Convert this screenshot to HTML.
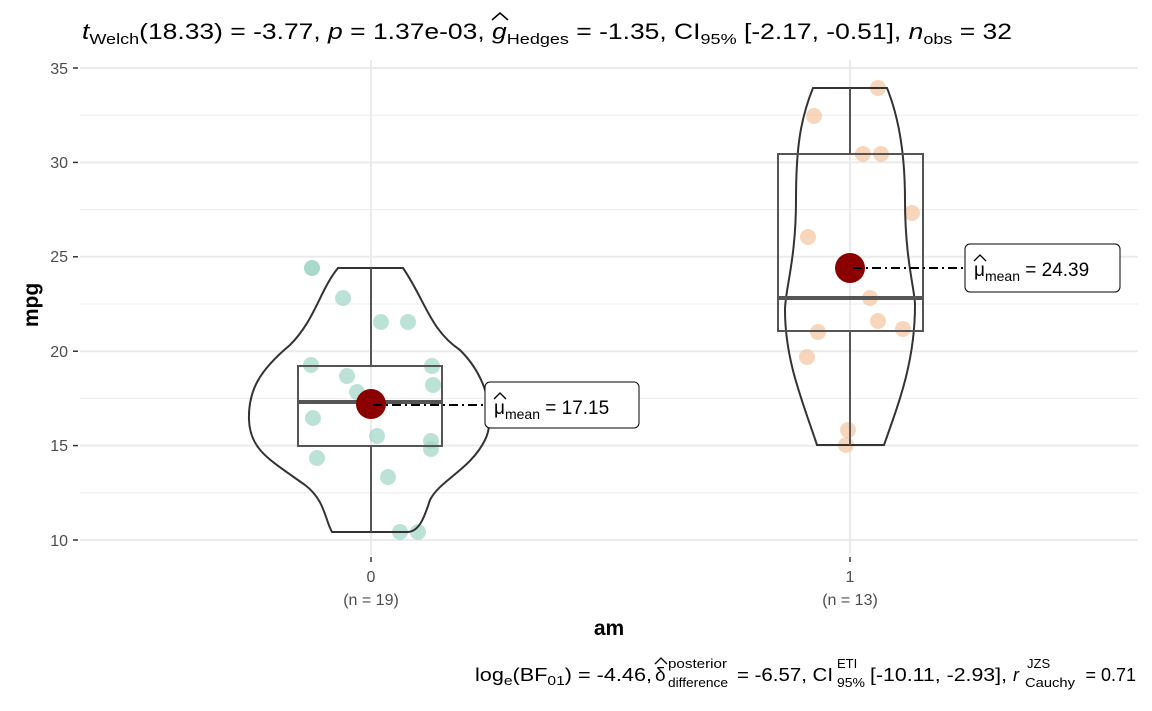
<!DOCTYPE html>
<html><head><meta charset="utf-8"><style>body{margin:0;background:#fff}svg{display:block;font-family:"Liberation Sans",sans-serif}</style></head><body>
<svg width="1152" height="711" viewBox="0 0 1152 711">
<g stroke="#ebebeb" stroke-width="1">
<line x1="80" x2="1138" y1="492.8" y2="492.8"/><line x1="80" x2="1138" y1="398.4" y2="398.4"/><line x1="80" x2="1138" y1="304" y2="304"/><line x1="80" x2="1138" y1="209.6" y2="209.6"/><line x1="80" x2="1138" y1="115.2" y2="115.2"/>
</g>
<g stroke="#ebebeb" stroke-width="2">
<line x1="80" x2="1138" y1="540" y2="540"/><line x1="80" x2="1138" y1="445.6" y2="445.6"/><line x1="80" x2="1138" y1="351.2" y2="351.2"/><line x1="80" x2="1138" y1="256.8" y2="256.8"/><line x1="80" x2="1138" y1="162.4" y2="162.4"/><line x1="80" x2="1138" y1="68" y2="68"/>
<line x1="371" x2="371" y1="60" y2="555"/><line x1="850" x2="850" y1="60" y2="555"/>
</g>
<g fill="#9fd6c6" fill-opacity="0.7">
<circle cx="312" cy="268" r="8"/><circle cx="343" cy="298" r="8"/><circle cx="381" cy="322" r="8"/><circle cx="408" cy="322" r="8"/><circle cx="311" cy="365" r="8"/><circle cx="347" cy="376" r="8"/><circle cx="357" cy="392" r="8"/><circle cx="432" cy="366" r="8"/><circle cx="433" cy="385" r="8"/><circle cx="313" cy="418" r="8"/><circle cx="377" cy="436" r="8"/><circle cx="431" cy="441" r="8"/><circle cx="431" cy="449" r="8"/><circle cx="317" cy="458" r="8"/><circle cx="388" cy="477" r="8"/><circle cx="400" cy="532" r="8"/><circle cx="418" cy="532" r="8"/><circle cx="312" cy="268" r="8"/>
</g>
<g fill="#f4c49e" fill-opacity="0.7">
<circle cx="878" cy="88" r="8"/><circle cx="814" cy="116" r="8"/><circle cx="863" cy="154" r="8"/><circle cx="881" cy="154" r="8"/><circle cx="912" cy="213" r="8"/><circle cx="808" cy="237" r="8"/><circle cx="870" cy="298" r="8"/><circle cx="878" cy="321" r="8"/><circle cx="818" cy="332" r="8"/><circle cx="903" cy="329" r="8"/><circle cx="807" cy="357" r="8"/><circle cx="848" cy="430" r="8"/><circle cx="846" cy="445" r="8"/>
</g>
<g fill="none" stroke="#333" stroke-width="2">
<path d="M338,268 L403,268 C425,300 430,330 460,350 C490,380 495,420 485,440 C470,470 440,480 430,500 C425,515 420,532 407,532 L332,532 C325,520 325,500 305,485 C270,460 250,450 249,420 C248,390 260,370 290,345 C315,320 320,290 338,268 Z"/>
<path d="M813,88 L887,88 C900,120 905,160 905,200 C905,260 915,290 915,305 C915,360 900,400 884,445 L817,445 C802,400 785,360 785,310 C785,290 796,260 796,200 C796,150 800,120 813,88 Z"/>
</g>
<g fill="none" stroke="#555" stroke-width="2">
<line x1="371" x2="371" y1="268" y2="366"/><line x1="371" x2="371" y1="446" y2="532"/>
<rect x="298" y="366" width="144" height="80"/>
<line x1="850" x2="850" y1="88" y2="154"/><line x1="850" x2="850" y1="331" y2="445"/>
<rect x="778" y="154" width="145" height="177"/>
</g>
<line x1="298" x2="442" y1="402" y2="402" stroke="#555" stroke-width="4"/>
<line x1="778" x2="923" y1="298" y2="298" stroke="#555" stroke-width="4"/>
<circle cx="371" cy="404" r="15" fill="#8b0000"/>
<circle cx="850" cy="268" r="15" fill="#8b0000"/>
<line x1="373" x2="486" y1="405" y2="405" stroke="#000" stroke-width="2" stroke-dasharray="9,4,2,4"/>
<line x1="853" x2="966" y1="268" y2="268" stroke="#000" stroke-width="2" stroke-dasharray="9,4,2,4"/>
<rect x="485" y="382" width="154" height="46" rx="5" fill="#fff" stroke="#000" stroke-width="1"/>
<rect x="965" y="244" width="155" height="48" rx="5" fill="#fff" stroke="#000" stroke-width="1"/>
<text x="494" y="414" font-size="19">μ<tspan font-size="14" dy="5">mean</tspan><tspan dy="-5"> = 17.15</tspan></text>
<path d="M494,399 L500,393 L506,399" fill="none" stroke="#000" stroke-width="1.3"/>
<text x="974" y="276" font-size="19">μ<tspan font-size="14" dy="5">mean</tspan><tspan dy="-5"> = 24.39</tspan></text>
<path d="M974,261 L980,255 L986,261" fill="none" stroke="#000" stroke-width="1.3"/>
<g font-size="16" fill="#4d4d4d" text-anchor="end">
<text x="68" y="546">10</text><text x="68" y="451">15</text><text x="68" y="357">20</text><text x="68" y="262">25</text><text x="68" y="168">30</text><text x="68" y="74">35</text>
</g>
<g stroke="#333" stroke-width="1.5"><line x1="73" x2="78" y1="540" y2="540"/><line x1="73" x2="78" y1="445.6" y2="445.6"/><line x1="73" x2="78" y1="351.2" y2="351.2"/><line x1="73" x2="78" y1="256.8" y2="256.8"/><line x1="73" x2="78" y1="162.4" y2="162.4"/><line x1="73" x2="78" y1="68" y2="68"/><line x1="371" x2="371" y1="557" y2="562"/><line x1="850" x2="850" y1="557" y2="562"/></g>
<g font-size="16" fill="#4d4d4d" text-anchor="middle">
<text x="371" y="582">0</text><text x="371" y="605">(n = 19)</text>
<text x="850" y="582">1</text><text x="850" y="605">(n = 13)</text>
</g>
<text x="609" y="635" font-size="21" font-weight="bold" text-anchor="middle">am</text>
<text transform="translate(38,305) rotate(-90)" font-size="21" font-weight="bold" text-anchor="middle">mpg</text>
<text x="82" y="39" font-size="22" textLength="930" lengthAdjust="spacingAndGlyphs"><tspan font-style="italic">t</tspan><tspan font-size="15" dy="5">Welch</tspan><tspan dy="-5">(18.33) = -3.77, </tspan><tspan font-style="italic">p</tspan> = 1.37e-03, <tspan font-style="italic">g</tspan><tspan font-size="15" dy="5">Hedges</tspan><tspan dy="-5"> = -1.35, CI</tspan><tspan font-size="15" dy="5">95%</tspan><tspan dy="-5"> [-2.17, -0.51], </tspan><tspan font-style="italic">n</tspan><tspan font-size="15" dy="5">obs</tspan><tspan dy="-5"> = 32</tspan></text>
<path d="M492,20 L500,13 L508,20" fill="none" stroke="#000" stroke-width="1.5"/>
<text x="475" y="681" font-size="18" textLength="177" lengthAdjust="spacingAndGlyphs">log<tspan font-size="13" dy="4">e</tspan><tspan dy="-4">(BF</tspan><tspan font-size="13" dy="4">01</tspan><tspan dy="-4">) = -4.46,</tspan></text>
<text x="655" y="681" font-size="19">δ</text>
<path d="M655,664 L661,658 L667,664" fill="none" stroke="#000" stroke-width="1.3"/>
<text x="668" y="668" font-size="13" textLength="59" lengthAdjust="spacingAndGlyphs">posterior</text>
<text x="668" y="687" font-size="13" textLength="60" lengthAdjust="spacingAndGlyphs">difference</text>
<text x="737" y="681" font-size="18" textLength="96" lengthAdjust="spacingAndGlyphs">= -6.57, CI</text>
<text x="837" y="668" font-size="13">ETI</text>
<text x="837" y="687" font-size="13" textLength="28" lengthAdjust="spacingAndGlyphs">95%</text>
<text x="870" y="681" font-size="18" textLength="137" lengthAdjust="spacingAndGlyphs">[-10.11, -2.93],</text>
<text x="1013" y="681" font-size="18" font-style="italic">r</text>
<text x="1027" y="668" font-size="13">JZS</text>
<text x="1025" y="687" font-size="13" textLength="50" lengthAdjust="spacingAndGlyphs">Cauchy</text>
<text x="1136" y="681" font-size="18" text-anchor="end">= 0.71</text>
</svg>
</body></html>
